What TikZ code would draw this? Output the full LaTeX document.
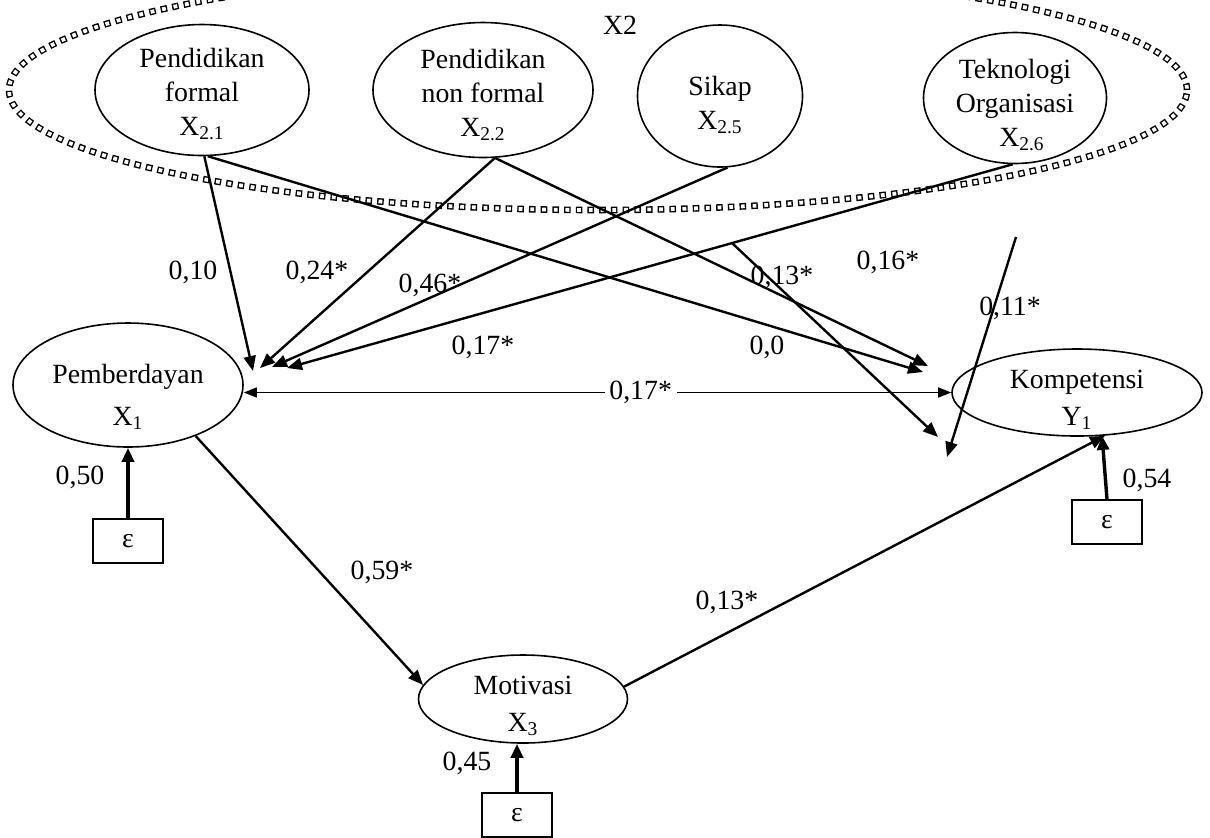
\documentclass[tikz,border=0pt]{standalone}
\usepackage{fontspec}
\setmainfont{Liberation Serif}
\usetikzlibrary{arrows.meta,shapes.geometric}

\tikzset{
  lat/.style={draw, ellipse, line width=0.8pt, inner sep=0pt},
  txt/.style={align=center, inner sep=0pt},
  errbox/.style={draw, rectangle, line width=0.7pt, minimum width=35pt, minimum height=22pt, inner sep=0pt},
  pathto/.style={-{Triangle[length=7.5pt,width=6pt]}, line width=1.2pt},
  errto/.style={-{Triangle[length=7pt,width=6pt]}, line width=1.7pt},
  dotsq/.style={line width=3.3pt, dash pattern=on 3.3pt off 2.55pt},
  dotin/.style={white, line width=1.9pt, dash pattern=on 1.9pt off 3.95pt, dash phase=5.15pt}
}

\begin{document}
\begin{tikzpicture}[x=0.5pt, y=-0.5pt, font=\fontsize{13.9pt}{17pt}\selectfont]
  \useasboundingbox (0,0) rectangle (1210,837);

  % X2 group
  \draw[dotsq] (598,90) ellipse [x radius=294.5pt, y radius=60pt];
  \draw[dotin] (598,90) ellipse [x radius=294.5pt, y radius=60pt];
  \node (X2) at (620,25) {X2};

  % latent variables
  \node[lat, minimum width=107pt, minimum height=65.5pt, label={[txt, yshift=-2pt]center:Pendidikan\\formal\\X\textsubscript{2.1}}] (X21) at (202,90) {};
  \node[lat, minimum width=110pt, minimum height=67.5pt, label={[txt, yshift=-2.5pt]center:Pendidikan\\non formal\\X\textsubscript{2.2}}] (X22) at (483,90) {};
  \node[lat, minimum width=82.5pt, minimum height=71pt, label={[txt, yshift=-4.5pt]center:Sikap\\X\textsubscript{2.5}}] (X25) at (720,96) {};
  \node[lat, minimum width=91.5pt, minimum height=65.5pt, label={[txt, yshift=-3.5pt]center:Teknologi\\Organisasi\\\ \ X\textsubscript{2.6}}] (X26) at (1015,98) {};
  \node[lat, minimum width=115pt, minimum height=62pt, label={[txt, yshift=-6pt]center:Pemberdayan\\[4pt]X\textsubscript{1}}] (X1) at (128,385) {};
  \node[lat, minimum width=125pt, minimum height=43.5pt, label={[txt, yshift=-3.5pt]center:Kompetensi\\[1.5pt]Y\textsubscript{1}}] (Y1) at (1077,392.5) {};
  \node[lat, minimum width=104.5pt, minimum height=44pt, label={[txt, yshift=-3.5pt]center:Motivasi\\[1.5pt]X\textsubscript{3}}] (X3) at (523,699) {};

  % error terms
  \node[errbox] (e1) at (128,541) {ε};
  \node[errbox] (e3) at (517,815) {ε};
  \node[errbox] (eY) at (1107,522) {ε};

  % free arrow ends
  \coordinate (t1) at (253,371);
  \coordinate (t2) at (260,368);
  \coordinate (t3) at (272,367);
  \coordinate (t4) at (287,368);
  \coordinate (u1) at (923,372);
  \coordinate (u2) at (928,366);
  \coordinate (f16s) at (732,243);
  \coordinate (f16e) at (938,437);
  \coordinate (f11s) at (1016,237);
  \coordinate (f11e) at (947,457);

  % paths
  \draw[pathto] (X21.-88) -- (t1);
  \draw[pathto] (X22.-80) -- (t2);
  \draw[pathto] (X25.-84) -- (t3);
  \draw[pathto] (X26.-92) -- (t4);
  \draw[pathto] (X21.-85) -- (u1);
  \draw[pathto] (X22.-80) -- (u2);
  \draw[pathto] (f16s) -- (f16e);
  \draw[pathto] (f11s) -- (f11e);
  \draw[{Triangle[length=6.5pt,width=5pt]}-{Triangle[length=6.5pt,width=5pt]}, line width=0.7pt]
    (X1.east |- Y1.west) -- node[fill=white, inner xsep=2.3pt, inner ysep=1pt, pos=0.561] (l017b) {0,17*} (Y1.west);
  \draw[pathto] (X1.-37) -- (X3.172);
  \draw[pathto] (X3.7) -- (Y1.-57);
  \draw[errto] (e1) -- (X1);
  \draw[errto] (e3.north) -- (e3.north |- X3.south);
  \draw[errto] (eY.north) -- (Y1.-60);

  % coefficients
  \node (l010) at (193,272) {0,10};
  \node (l024) at (317,272) {0,24*};
  \node (l046) at (430,285) {0,46*};
  \node (l017a) at (483,347) {0,17*};
  \node (l00) at (767,347) {0,0};
  \node (l013a) at (782,277) {0,13*};
  \node (l016) at (888,262) {0,16*};
  \node (l011) at (1010,308) {0,11*};
  \node (l059) at (382,572) {0,59*};
  \node (l013b) at (727,602) {0,13*};
  \node (l050) at (80,477) {0,50};
  \node (l045) at (467,763) {0,45};
  \node (l054) at (1147,480) {0,54};
\end{tikzpicture}
\end{document}
